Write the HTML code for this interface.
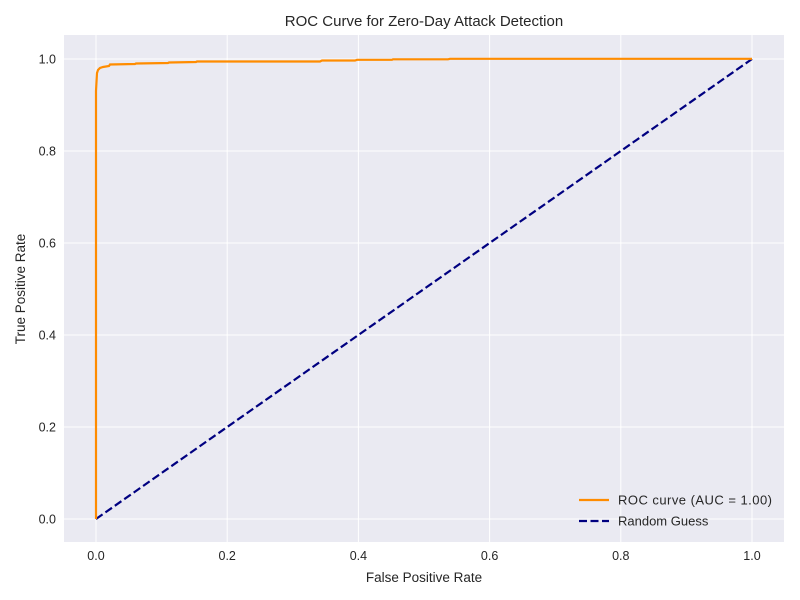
<!DOCTYPE html>
<html><head><style>body{margin:0;background:#fff}svg{display:block}text{font-family:"Liberation Sans",sans-serif;fill:#262626}</style></head><body>
<svg width="800" height="600" xmlns="http://www.w3.org/2000/svg">
<rect x="64" y="35" width="720" height="507" fill="#eaeaf2"/>
<g stroke="#fff" stroke-width="1">
<line x1="96" y1="35" x2="96" y2="542"/><line x1="227.2" y1="35" x2="227.2" y2="542"/><line x1="358.4" y1="35" x2="358.4" y2="542"/><line x1="489.6" y1="35" x2="489.6" y2="542"/><line x1="620.8" y1="35" x2="620.8" y2="542"/><line x1="752" y1="35" x2="752" y2="542"/>
<line x1="64" y1="519" x2="784" y2="519"/><line x1="64" y1="427" x2="784" y2="427"/><line x1="64" y1="335" x2="784" y2="335"/><line x1="64" y1="243" x2="784" y2="243"/><line x1="64" y1="151" x2="784" y2="151"/><line x1="64" y1="59" x2="784" y2="59"/>
</g>
<line x1="96" y1="519" x2="752" y2="59" stroke="#000080" stroke-width="2.2" stroke-dasharray="8,3.5"/>
<polyline fill="none" stroke="#ff8c00" stroke-width="2.2" points="96,519 96,91 97,73 98,70 100,68 103,67 109,66 110,64.5 135,64 136,63.5 168,63 169,62.5 196,62 197,61.5 320,61.5 322,60.5 355,60.5 357,59.8 392,59.8 393,59.3 448,59.3 450,58.8 752,58.8"/>
<g font-size="12.5" text-anchor="middle">
<text x="96" y="560">0.0</text><text x="227.2" y="560">0.2</text><text x="358.4" y="560">0.4</text><text x="489.6" y="560">0.6</text><text x="620.8" y="560">0.8</text><text x="752" y="560">1.0</text>
</g>
<g font-size="12.5" text-anchor="end">
<text x="56" y="523.5">0.0</text><text x="56" y="431.5">0.2</text><text x="56" y="339.5">0.4</text><text x="56" y="247.5">0.6</text><text x="56" y="155.5">0.8</text><text x="56" y="63.5">1.0</text>
</g>
<text x="424" y="582" font-size="13.5" text-anchor="middle">False Positive Rate</text>
<text transform="translate(25,289) rotate(-90)" font-size="13.5" text-anchor="middle">True Positive Rate</text>
<text x="424" y="26" font-size="15" text-anchor="middle">ROC Curve for Zero-Day Attack Detection</text>
<line x1="579" y1="500" x2="609" y2="500" stroke="#ff8c00" stroke-width="2.2"/>
<text x="618" y="504.5" font-size="13" textLength="154">ROC curve (AUC = 1.00)</text>
<line x1="579" y1="521" x2="609" y2="521" stroke="#000080" stroke-width="2.2" stroke-dasharray="8,3.5"/>
<text x="618" y="525.5" font-size="13">Random Guess</text>
</svg>
</body></html>
